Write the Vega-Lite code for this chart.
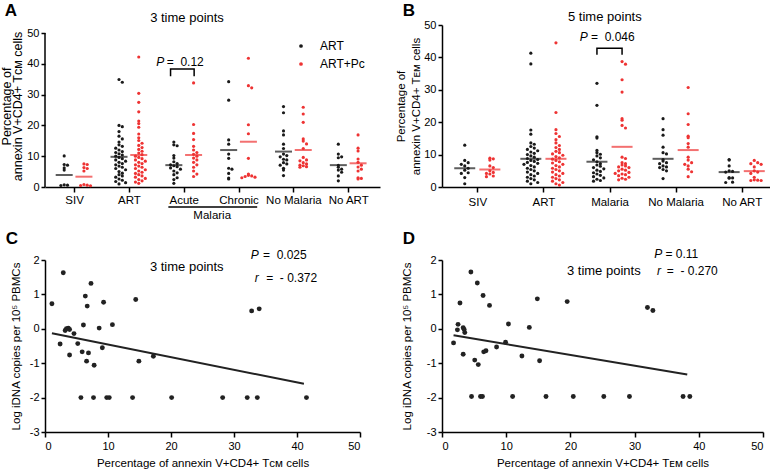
{
  "$schema": "https://vega.github.io/schema/vega-lite/v6.json",
  "background": "#ffffff",
  "padding": {"left": 0, "top": 2, "right": 0, "bottom": 0},
  "config": {
    "font": "Liberation Sans",
    "view": {"stroke": null},
    "axis": {
      "domainColor": "#000000", "domainWidth": 1.5,
      "tickColor": "#000000", "tickWidth": 1.5, "tickSize": 5,
      "labelColor": "#000000", "labelFontSize": 11, "labelFont": "Liberation Sans", "labelOverlap": false,
      "titleColor": "#000000", "titleFontWeight": "normal", "titleFontSize": 12, "titleFont": "Liberation Sans",
      "grid": false
    },
    "text": {"font": "Liberation Sans", "color": "#000000"}
  },
  "datasets": {
    "a": [
      {"c": "SIV", "s": "ART", "v": 10.1}, {"c": "SIV", "s": "ART", "v": 7.3}, {"c": "SIV", "s": "ART", "v": 7.1}, {"c": "SIV", "s": "ART", "v": 6.2}, {"c": "SIV", "s": "ART", "v": 5.5}, {"c": "SIV", "s": "ART", "v": 0.7}, {"c": "SIV", "s": "ART", "v": 0.6}, {"c": "SIV", "s": "ART", "v": 0.5},
      {"c": "SIV", "s": "ART+Pc", "v": 7.5}, {"c": "SIV", "s": "ART+Pc", "v": 7.3}, {"c": "SIV", "s": "ART+Pc", "v": 6.3}, {"c": "SIV", "s": "ART+Pc", "v": 6.0}, {"c": "SIV", "s": "ART+Pc", "v": 5.2}, {"c": "SIV", "s": "ART+Pc", "v": 0.8}, {"c": "SIV", "s": "ART+Pc", "v": 0.6}, {"c": "SIV", "s": "ART+Pc", "v": 0.5}, {"c": "SIV", "s": "ART+Pc", "v": 0.4},
      {"c": "ART", "s": "ART", "v": 34.9}, {"c": "ART", "s": "ART", "v": 34.0}, {"c": "ART", "s": "ART", "v": 20.0}, {"c": "ART", "s": "ART", "v": 19.6}, {"c": "ART", "s": "ART", "v": 18.0}, {"c": "ART", "s": "ART", "v": 16.5}, {"c": "ART", "s": "ART", "v": 15.6}, {"c": "ART", "s": "ART", "v": 14.6}, {"c": "ART", "s": "ART", "v": 13.7}, {"c": "ART", "s": "ART", "v": 13.2}, {"c": "ART", "s": "ART", "v": 12.6}, {"c": "ART", "s": "ART", "v": 12.0}, {"c": "ART", "s": "ART", "v": 11.5}, {"c": "ART", "s": "ART", "v": 11.2}, {"c": "ART", "s": "ART", "v": 10.8}, {"c": "ART", "s": "ART", "v": 10.4}, {"c": "ART", "s": "ART", "v": 10.0}, {"c": "ART", "s": "ART", "v": 9.6}, {"c": "ART", "s": "ART", "v": 9.2}, {"c": "ART", "s": "ART", "v": 8.8}, {"c": "ART", "s": "ART", "v": 8.4}, {"c": "ART", "s": "ART", "v": 8.0}, {"c": "ART", "s": "ART", "v": 7.6}, {"c": "ART", "s": "ART", "v": 7.2}, {"c": "ART", "s": "ART", "v": 6.8}, {"c": "ART", "s": "ART", "v": 6.4}, {"c": "ART", "s": "ART", "v": 6.0}, {"c": "ART", "s": "ART", "v": 5.6}, {"c": "ART", "s": "ART", "v": 5.0}, {"c": "ART", "s": "ART", "v": 4.5}, {"c": "ART", "s": "ART", "v": 4.0}, {"c": "ART", "s": "ART", "v": 3.6}, {"c": "ART", "s": "ART", "v": 3.2}, {"c": "ART", "s": "ART", "v": 2.6}, {"c": "ART", "s": "ART", "v": 2.2}, {"c": "ART", "s": "ART", "v": 1.8}, {"c": "ART", "s": "ART", "v": 1.4}, {"c": "ART", "s": "ART", "v": 1.0},
      {"c": "ART", "s": "ART+Pc", "v": 42.2}, {"c": "ART", "s": "ART+Pc", "v": 30.4}, {"c": "ART", "s": "ART+Pc", "v": 27.5}, {"c": "ART", "s": "ART+Pc", "v": 24.4}, {"c": "ART", "s": "ART+Pc", "v": 21.4}, {"c": "ART", "s": "ART+Pc", "v": 20.6}, {"c": "ART", "s": "ART+Pc", "v": 19.4}, {"c": "ART", "s": "ART+Pc", "v": 17.2}, {"c": "ART", "s": "ART+Pc", "v": 16.0}, {"c": "ART", "s": "ART+Pc", "v": 15.1}, {"c": "ART", "s": "ART+Pc", "v": 14.2}, {"c": "ART", "s": "ART+Pc", "v": 13.5}, {"c": "ART", "s": "ART+Pc", "v": 12.8}, {"c": "ART", "s": "ART+Pc", "v": 12.2}, {"c": "ART", "s": "ART+Pc", "v": 11.6}, {"c": "ART", "s": "ART+Pc", "v": 11.0}, {"c": "ART", "s": "ART+Pc", "v": 10.5}, {"c": "ART", "s": "ART+Pc", "v": 10.0}, {"c": "ART", "s": "ART+Pc", "v": 9.6}, {"c": "ART", "s": "ART+Pc", "v": 9.2}, {"c": "ART", "s": "ART+Pc", "v": 8.8}, {"c": "ART", "s": "ART+Pc", "v": 8.4}, {"c": "ART", "s": "ART+Pc", "v": 8.0}, {"c": "ART", "s": "ART+Pc", "v": 7.6}, {"c": "ART", "s": "ART+Pc", "v": 7.2}, {"c": "ART", "s": "ART+Pc", "v": 6.8}, {"c": "ART", "s": "ART+Pc", "v": 6.4}, {"c": "ART", "s": "ART+Pc", "v": 6.0}, {"c": "ART", "s": "ART+Pc", "v": 5.6}, {"c": "ART", "s": "ART+Pc", "v": 5.2}, {"c": "ART", "s": "ART+Pc", "v": 4.8}, {"c": "ART", "s": "ART+Pc", "v": 4.4}, {"c": "ART", "s": "ART+Pc", "v": 4.0}, {"c": "ART", "s": "ART+Pc", "v": 3.6}, {"c": "ART", "s": "ART+Pc", "v": 3.2}, {"c": "ART", "s": "ART+Pc", "v": 2.8}, {"c": "ART", "s": "ART+Pc", "v": 2.4}, {"c": "ART", "s": "ART+Pc", "v": 2.0}, {"c": "ART", "s": "ART+Pc", "v": 1.6}, {"c": "ART", "s": "ART+Pc", "v": 1.2},
      {"c": "Acute", "s": "ART", "v": 14.6}, {"c": "Acute", "s": "ART", "v": 13.7}, {"c": "Acute", "s": "ART", "v": 13.4}, {"c": "Acute", "s": "ART", "v": 10.2}, {"c": "Acute", "s": "ART", "v": 9.4}, {"c": "Acute", "s": "ART", "v": 8.2}, {"c": "Acute", "s": "ART", "v": 7.6}, {"c": "Acute", "s": "ART", "v": 7.2}, {"c": "Acute", "s": "ART", "v": 6.9}, {"c": "Acute", "s": "ART", "v": 6.6}, {"c": "Acute", "s": "ART", "v": 6.2}, {"c": "Acute", "s": "ART", "v": 5.8}, {"c": "Acute", "s": "ART", "v": 5.2}, {"c": "Acute", "s": "ART", "v": 4.6}, {"c": "Acute", "s": "ART", "v": 4.0}, {"c": "Acute", "s": "ART", "v": 3.0}, {"c": "Acute", "s": "ART", "v": 2.4}, {"c": "Acute", "s": "ART", "v": 1.2},
      {"c": "Acute", "s": "ART+Pc", "v": 33.8}, {"c": "Acute", "s": "ART+Pc", "v": 20.3}, {"c": "Acute", "s": "ART+Pc", "v": 17.4}, {"c": "Acute", "s": "ART+Pc", "v": 15.4}, {"c": "Acute", "s": "ART+Pc", "v": 13.2}, {"c": "Acute", "s": "ART+Pc", "v": 12.0}, {"c": "Acute", "s": "ART+Pc", "v": 11.2}, {"c": "Acute", "s": "ART+Pc", "v": 10.6}, {"c": "Acute", "s": "ART+Pc", "v": 10.0}, {"c": "Acute", "s": "ART+Pc", "v": 9.4}, {"c": "Acute", "s": "ART+Pc", "v": 8.8}, {"c": "Acute", "s": "ART+Pc", "v": 8.0}, {"c": "Acute", "s": "ART+Pc", "v": 7.2}, {"c": "Acute", "s": "ART+Pc", "v": 6.4}, {"c": "Acute", "s": "ART+Pc", "v": 5.2}, {"c": "Acute", "s": "ART+Pc", "v": 4.2}, {"c": "Acute", "s": "ART+Pc", "v": 3.4},
      {"c": "Chronic", "s": "ART", "v": 34.2}, {"c": "Chronic", "s": "ART", "v": 28.2}, {"c": "Chronic", "s": "ART", "v": 15.3}, {"c": "Chronic", "s": "ART", "v": 13.9}, {"c": "Chronic", "s": "ART", "v": 10.7}, {"c": "Chronic", "s": "ART", "v": 9.3}, {"c": "Chronic", "s": "ART", "v": 6.1}, {"c": "Chronic", "s": "ART", "v": 5.8}, {"c": "Chronic", "s": "ART", "v": 4.4}, {"c": "Chronic", "s": "ART", "v": 2.9}, {"c": "Chronic", "s": "ART", "v": 2.6},
      {"c": "Chronic", "s": "ART+Pc", "v": 41.8}, {"c": "Chronic", "s": "ART+Pc", "v": 32.9}, {"c": "Chronic", "s": "ART+Pc", "v": 32.2}, {"c": "Chronic", "s": "ART+Pc", "v": 20.2}, {"c": "Chronic", "s": "ART+Pc", "v": 17.3}, {"c": "Chronic", "s": "ART+Pc", "v": 9.3}, {"c": "Chronic", "s": "ART+Pc", "v": 4.2}, {"c": "Chronic", "s": "ART+Pc", "v": 3.8}, {"c": "Chronic", "s": "ART+Pc", "v": 3.6}, {"c": "Chronic", "s": "ART+Pc", "v": 3.4}, {"c": "Chronic", "s": "ART+Pc", "v": 3.2}, {"c": "Chronic", "s": "ART+Pc", "v": 3.0},
      {"c": "No Malaria", "s": "ART", "v": 26.1}, {"c": "No Malaria", "s": "ART", "v": 24.1}, {"c": "No Malaria", "s": "ART", "v": 18.2}, {"c": "No Malaria", "s": "ART", "v": 16.9}, {"c": "No Malaria", "s": "ART", "v": 13.9}, {"c": "No Malaria", "s": "ART", "v": 12.5}, {"c": "No Malaria", "s": "ART", "v": 10.7}, {"c": "No Malaria", "s": "ART", "v": 10.2}, {"c": "No Malaria", "s": "ART", "v": 9.8}, {"c": "No Malaria", "s": "ART", "v": 9.0}, {"c": "No Malaria", "s": "ART", "v": 8.8}, {"c": "No Malaria", "s": "ART", "v": 7.9}, {"c": "No Malaria", "s": "ART", "v": 7.5}, {"c": "No Malaria", "s": "ART", "v": 7.1}, {"c": "No Malaria", "s": "ART", "v": 6.1}, {"c": "No Malaria", "s": "ART", "v": 5.5}, {"c": "No Malaria", "s": "ART", "v": 3.7},
      {"c": "No Malaria", "s": "ART+Pc", "v": 25.9}, {"c": "No Malaria", "s": "ART+Pc", "v": 23.7}, {"c": "No Malaria", "s": "ART+Pc", "v": 21.0}, {"c": "No Malaria", "s": "ART+Pc", "v": 15.6}, {"c": "No Malaria", "s": "ART+Pc", "v": 14.9}, {"c": "No Malaria", "s": "ART+Pc", "v": 14.0}, {"c": "No Malaria", "s": "ART+Pc", "v": 12.5}, {"c": "No Malaria", "s": "ART+Pc", "v": 9.6}, {"c": "No Malaria", "s": "ART+Pc", "v": 8.8}, {"c": "No Malaria", "s": "ART+Pc", "v": 8.5}, {"c": "No Malaria", "s": "ART+Pc", "v": 7.9}, {"c": "No Malaria", "s": "ART+Pc", "v": 7.5}, {"c": "No Malaria", "s": "ART+Pc", "v": 7.1}, {"c": "No Malaria", "s": "ART+Pc", "v": 6.9}, {"c": "No Malaria", "s": "ART+Pc", "v": 6.6}, {"c": "No Malaria", "s": "ART+Pc", "v": 6.4},
      {"c": "No ART", "s": "ART", "v": 13.9}, {"c": "No ART", "s": "ART", "v": 10.7}, {"c": "No ART", "s": "ART", "v": 9.8}, {"c": "No ART", "s": "ART", "v": 9.5}, {"c": "No ART", "s": "ART", "v": 7.0}, {"c": "No ART", "s": "ART", "v": 6.4}, {"c": "No ART", "s": "ART", "v": 5.8}, {"c": "No ART", "s": "ART", "v": 5.5}, {"c": "No ART", "s": "ART", "v": 4.8}, {"c": "No ART", "s": "ART", "v": 3.6}, {"c": "No ART", "s": "ART", "v": 2.0},
      {"c": "No ART", "s": "ART+Pc", "v": 16.9}, {"c": "No ART", "s": "ART+Pc", "v": 12.6}, {"c": "No ART", "s": "ART+Pc", "v": 11.7}, {"c": "No ART", "s": "ART+Pc", "v": 9.1}, {"c": "No ART", "s": "ART+Pc", "v": 8.0}, {"c": "No ART", "s": "ART+Pc", "v": 7.1}, {"c": "No ART", "s": "ART+Pc", "v": 6.5}, {"c": "No ART", "s": "ART+Pc", "v": 5.8}, {"c": "No ART", "s": "ART+Pc", "v": 5.2}, {"c": "No ART", "s": "ART+Pc", "v": 3.0}, {"c": "No ART", "s": "ART+Pc", "v": 2.8}, {"c": "No ART", "s": "ART+Pc", "v": 2.6}
    ],
    "aMean": [
      {"c": "SIV", "s": "ART", "v": 3.9}, {"c": "SIV", "s": "ART+Pc", "v": 3.35},
      {"c": "ART", "s": "ART", "v": 9.8}, {"c": "ART", "s": "ART+Pc", "v": 10.4},
      {"c": "Acute", "s": "ART", "v": 7.1}, {"c": "Acute", "s": "ART+Pc", "v": 10.4},
      {"c": "Chronic", "s": "ART", "v": 12.0}, {"c": "Chronic", "s": "ART+Pc", "v": 14.7},
      {"c": "No Malaria", "s": "ART", "v": 11.5}, {"c": "No Malaria", "s": "ART+Pc", "v": 12.0},
      {"c": "No ART", "s": "ART", "v": 7.1}, {"c": "No ART", "s": "ART+Pc", "v": 7.7}
    ],
    "aBracket": [
      {"px": 1.76, "v": 36.0, "o": 1}, {"px": 1.76, "v": 38.3, "o": 2}, {"px": 2.19, "v": 38.3, "o": 3}, {"px": 2.19, "v": 36.0, "o": 4}
    ],
    "b": [
      {"c": "SIV", "s": "ART", "v": 12.9}, {"c": "SIV", "s": "ART", "v": 8.2}, {"c": "SIV", "s": "ART", "v": 7.5}, {"c": "SIV", "s": "ART", "v": 7.0}, {"c": "SIV", "s": "ART", "v": 6.5}, {"c": "SIV", "s": "ART", "v": 5.8}, {"c": "SIV", "s": "ART", "v": 5.2}, {"c": "SIV", "s": "ART", "v": 4.4}, {"c": "SIV", "s": "ART", "v": 4.2}, {"c": "SIV", "s": "ART", "v": 2.9}, {"c": "SIV", "s": "ART", "v": 1.0},
      {"c": "SIV", "s": "ART+Pc", "v": 8.9}, {"c": "SIV", "s": "ART+Pc", "v": 8.7}, {"c": "SIV", "s": "ART+Pc", "v": 8.3}, {"c": "SIV", "s": "ART+Pc", "v": 6.5}, {"c": "SIV", "s": "ART+Pc", "v": 6.0}, {"c": "SIV", "s": "ART+Pc", "v": 5.0}, {"c": "SIV", "s": "ART+Pc", "v": 4.5}, {"c": "SIV", "s": "ART+Pc", "v": 4.2}, {"c": "SIV", "s": "ART+Pc", "v": 4.0}, {"c": "SIV", "s": "ART+Pc", "v": 3.4}, {"c": "SIV", "s": "ART+Pc", "v": 3.2},
      {"c": "ART", "s": "ART", "v": 41.3}, {"c": "ART", "s": "ART", "v": 38.0}, {"c": "ART", "s": "ART", "v": 17.6}, {"c": "ART", "s": "ART", "v": 16.3}, {"c": "ART", "s": "ART", "v": 13.6}, {"c": "ART", "s": "ART", "v": 13.2}, {"c": "ART", "s": "ART", "v": 12.5}, {"c": "ART", "s": "ART", "v": 12.0}, {"c": "ART", "s": "ART", "v": 11.6}, {"c": "ART", "s": "ART", "v": 11.2}, {"c": "ART", "s": "ART", "v": 10.8}, {"c": "ART", "s": "ART", "v": 10.4}, {"c": "ART", "s": "ART", "v": 10.0}, {"c": "ART", "s": "ART", "v": 9.6}, {"c": "ART", "s": "ART", "v": 9.2}, {"c": "ART", "s": "ART", "v": 8.8}, {"c": "ART", "s": "ART", "v": 8.5}, {"c": "ART", "s": "ART", "v": 8.2}, {"c": "ART", "s": "ART", "v": 7.9}, {"c": "ART", "s": "ART", "v": 7.6}, {"c": "ART", "s": "ART", "v": 7.3}, {"c": "ART", "s": "ART", "v": 7.0}, {"c": "ART", "s": "ART", "v": 6.6}, {"c": "ART", "s": "ART", "v": 6.2}, {"c": "ART", "s": "ART", "v": 5.8}, {"c": "ART", "s": "ART", "v": 5.4}, {"c": "ART", "s": "ART", "v": 5.0}, {"c": "ART", "s": "ART", "v": 4.6}, {"c": "ART", "s": "ART", "v": 4.2}, {"c": "ART", "s": "ART", "v": 3.8}, {"c": "ART", "s": "ART", "v": 3.4}, {"c": "ART", "s": "ART", "v": 3.0}, {"c": "ART", "s": "ART", "v": 2.6}, {"c": "ART", "s": "ART", "v": 2.2}, {"c": "ART", "s": "ART", "v": 1.8}, {"c": "ART", "s": "ART", "v": 1.4}, {"c": "ART", "s": "ART", "v": 1.0},
      {"c": "ART", "s": "ART+Pc", "v": 44.5}, {"c": "ART", "s": "ART+Pc", "v": 23.0}, {"c": "ART", "s": "ART+Pc", "v": 17.7}, {"c": "ART", "s": "ART+Pc", "v": 16.5}, {"c": "ART", "s": "ART+Pc", "v": 15.6}, {"c": "ART", "s": "ART+Pc", "v": 14.6}, {"c": "ART", "s": "ART+Pc", "v": 13.6}, {"c": "ART", "s": "ART+Pc", "v": 12.8}, {"c": "ART", "s": "ART+Pc", "v": 12.2}, {"c": "ART", "s": "ART+Pc", "v": 11.6}, {"c": "ART", "s": "ART+Pc", "v": 11.0}, {"c": "ART", "s": "ART+Pc", "v": 10.6}, {"c": "ART", "s": "ART+Pc", "v": 10.2}, {"c": "ART", "s": "ART+Pc", "v": 9.8}, {"c": "ART", "s": "ART+Pc", "v": 9.4}, {"c": "ART", "s": "ART+Pc", "v": 9.0}, {"c": "ART", "s": "ART+Pc", "v": 8.6}, {"c": "ART", "s": "ART+Pc", "v": 8.2}, {"c": "ART", "s": "ART+Pc", "v": 7.8}, {"c": "ART", "s": "ART+Pc", "v": 7.4}, {"c": "ART", "s": "ART+Pc", "v": 7.0}, {"c": "ART", "s": "ART+Pc", "v": 6.6}, {"c": "ART", "s": "ART+Pc", "v": 6.2}, {"c": "ART", "s": "ART+Pc", "v": 5.8}, {"c": "ART", "s": "ART+Pc", "v": 5.4}, {"c": "ART", "s": "ART+Pc", "v": 5.0}, {"c": "ART", "s": "ART+Pc", "v": 4.6}, {"c": "ART", "s": "ART+Pc", "v": 4.2}, {"c": "ART", "s": "ART+Pc", "v": 3.8}, {"c": "ART", "s": "ART+Pc", "v": 3.4}, {"c": "ART", "s": "ART+Pc", "v": 3.0}, {"c": "ART", "s": "ART+Pc", "v": 2.6}, {"c": "ART", "s": "ART+Pc", "v": 2.2}, {"c": "ART", "s": "ART+Pc", "v": 1.8}, {"c": "ART", "s": "ART+Pc", "v": 1.4}, {"c": "ART", "s": "ART+Pc", "v": 1.0}, {"c": "ART", "s": "ART+Pc", "v": 0.6},
      {"c": "Malaria", "s": "ART", "v": 32.0}, {"c": "Malaria", "s": "ART", "v": 25.2}, {"c": "Malaria", "s": "ART", "v": 15.5}, {"c": "Malaria", "s": "ART", "v": 15.1}, {"c": "Malaria", "s": "ART", "v": 11.3}, {"c": "Malaria", "s": "ART", "v": 10.6}, {"c": "Malaria", "s": "ART", "v": 10.1}, {"c": "Malaria", "s": "ART", "v": 9.6}, {"c": "Malaria", "s": "ART", "v": 9.0}, {"c": "Malaria", "s": "ART", "v": 8.4}, {"c": "Malaria", "s": "ART", "v": 7.8}, {"c": "Malaria", "s": "ART", "v": 7.2}, {"c": "Malaria", "s": "ART", "v": 6.8}, {"c": "Malaria", "s": "ART", "v": 6.4}, {"c": "Malaria", "s": "ART", "v": 6.0}, {"c": "Malaria", "s": "ART", "v": 5.6}, {"c": "Malaria", "s": "ART", "v": 5.2}, {"c": "Malaria", "s": "ART", "v": 4.8}, {"c": "Malaria", "s": "ART", "v": 4.4}, {"c": "Malaria", "s": "ART", "v": 4.0}, {"c": "Malaria", "s": "ART", "v": 3.6}, {"c": "Malaria", "s": "ART", "v": 3.2}, {"c": "Malaria", "s": "ART", "v": 2.8}, {"c": "Malaria", "s": "ART", "v": 2.4}, {"c": "Malaria", "s": "ART", "v": 2.0}, {"c": "Malaria", "s": "ART", "v": 1.8},
      {"c": "Malaria", "s": "ART+Pc", "v": 38.7}, {"c": "Malaria", "s": "ART+Pc", "v": 37.9}, {"c": "Malaria", "s": "ART+Pc", "v": 33.1}, {"c": "Malaria", "s": "ART+Pc", "v": 29.3}, {"c": "Malaria", "s": "ART+Pc", "v": 21.1}, {"c": "Malaria", "s": "ART+Pc", "v": 20.6}, {"c": "Malaria", "s": "ART+Pc", "v": 19.0}, {"c": "Malaria", "s": "ART+Pc", "v": 18.2}, {"c": "Malaria", "s": "ART+Pc", "v": 9.2}, {"c": "Malaria", "s": "ART+Pc", "v": 8.8}, {"c": "Malaria", "s": "ART+Pc", "v": 7.5}, {"c": "Malaria", "s": "ART+Pc", "v": 7.2}, {"c": "Malaria", "s": "ART+Pc", "v": 6.8}, {"c": "Malaria", "s": "ART+Pc", "v": 6.5}, {"c": "Malaria", "s": "ART+Pc", "v": 6.2}, {"c": "Malaria", "s": "ART+Pc", "v": 6.0}, {"c": "Malaria", "s": "ART+Pc", "v": 5.5}, {"c": "Malaria", "s": "ART+Pc", "v": 5.2}, {"c": "Malaria", "s": "ART+Pc", "v": 5.0}, {"c": "Malaria", "s": "ART+Pc", "v": 4.5}, {"c": "Malaria", "s": "ART+Pc", "v": 4.2}, {"c": "Malaria", "s": "ART+Pc", "v": 4.0}, {"c": "Malaria", "s": "ART+Pc", "v": 3.8}, {"c": "Malaria", "s": "ART+Pc", "v": 3.5}, {"c": "Malaria", "s": "ART+Pc", "v": 3.0}, {"c": "Malaria", "s": "ART+Pc", "v": 2.7}, {"c": "Malaria", "s": "ART+Pc", "v": 2.4}, {"c": "Malaria", "s": "ART+Pc", "v": 2.2},
      {"c": "No Malaria", "s": "ART", "v": 21.1}, {"c": "No Malaria", "s": "ART", "v": 17.7}, {"c": "No Malaria", "s": "ART", "v": 16.0}, {"c": "No Malaria", "s": "ART", "v": 12.3}, {"c": "No Malaria", "s": "ART", "v": 10.6}, {"c": "No Malaria", "s": "ART", "v": 10.2}, {"c": "No Malaria", "s": "ART", "v": 8.5}, {"c": "No Malaria", "s": "ART", "v": 8.0}, {"c": "No Malaria", "s": "ART", "v": 7.5}, {"c": "No Malaria", "s": "ART", "v": 7.2}, {"c": "No Malaria", "s": "ART", "v": 6.5}, {"c": "No Malaria", "s": "ART", "v": 6.2}, {"c": "No Malaria", "s": "ART", "v": 6.0}, {"c": "No Malaria", "s": "ART", "v": 5.4}, {"c": "No Malaria", "s": "ART", "v": 5.0}, {"c": "No Malaria", "s": "ART", "v": 2.6},
      {"c": "No Malaria", "s": "ART+Pc", "v": 30.7}, {"c": "No Malaria", "s": "ART+Pc", "v": 22.6}, {"c": "No Malaria", "s": "ART+Pc", "v": 19.3}, {"c": "No Malaria", "s": "ART+Pc", "v": 15.7}, {"c": "No Malaria", "s": "ART+Pc", "v": 15.2}, {"c": "No Malaria", "s": "ART+Pc", "v": 13.4}, {"c": "No Malaria", "s": "ART+Pc", "v": 12.3}, {"c": "No Malaria", "s": "ART+Pc", "v": 9.2}, {"c": "No Malaria", "s": "ART+Pc", "v": 8.3}, {"c": "No Malaria", "s": "ART+Pc", "v": 7.5}, {"c": "No Malaria", "s": "ART+Pc", "v": 7.0}, {"c": "No Malaria", "s": "ART+Pc", "v": 6.5}, {"c": "No Malaria", "s": "ART+Pc", "v": 5.5}, {"c": "No Malaria", "s": "ART+Pc", "v": 4.7}, {"c": "No Malaria", "s": "ART+Pc", "v": 3.2},
      {"c": "No ART", "s": "ART", "v": 8.5}, {"c": "No ART", "s": "ART", "v": 8.3}, {"c": "No ART", "s": "ART", "v": 6.5}, {"c": "No ART", "s": "ART", "v": 5.0}, {"c": "No ART", "s": "ART", "v": 4.8}, {"c": "No ART", "s": "ART", "v": 4.6}, {"c": "No ART", "s": "ART", "v": 2.9}, {"c": "No ART", "s": "ART", "v": 2.8}, {"c": "No ART", "s": "ART", "v": 2.7}, {"c": "No ART", "s": "ART", "v": 1.5}, {"c": "No ART", "s": "ART", "v": 1.4},
      {"c": "No ART", "s": "ART+Pc", "v": 8.2}, {"c": "No ART", "s": "ART+Pc", "v": 7.5}, {"c": "No ART", "s": "ART+Pc", "v": 7.2}, {"c": "No ART", "s": "ART+Pc", "v": 7.0}, {"c": "No ART", "s": "ART+Pc", "v": 6.2}, {"c": "No ART", "s": "ART+Pc", "v": 5.0}, {"c": "No ART", "s": "ART+Pc", "v": 4.6}, {"c": "No ART", "s": "ART+Pc", "v": 4.2}, {"c": "No ART", "s": "ART+Pc", "v": 3.0}, {"c": "No ART", "s": "ART+Pc", "v": 2.2}, {"c": "No ART", "s": "ART+Pc", "v": 2.1}, {"c": "No ART", "s": "ART+Pc", "v": 2.0}, {"c": "No ART", "s": "ART+Pc", "v": 2.0}
    ],
    "bMean": [
      {"c": "SIV", "s": "ART", "v": 5.8}, {"c": "SIV", "s": "ART+Pc", "v": 5.4},
      {"c": "ART", "s": "ART", "v": 8.7}, {"c": "ART", "s": "ART+Pc", "v": 8.7},
      {"c": "Malaria", "s": "ART", "v": 7.8}, {"c": "Malaria", "s": "ART+Pc", "v": 12.4},
      {"c": "No Malaria", "s": "ART", "v": 8.7}, {"c": "No Malaria", "s": "ART+Pc", "v": 11.4},
      {"c": "No ART", "s": "ART", "v": 4.6}, {"c": "No ART", "s": "ART+Pc", "v": 4.9}
    ],
    "bBracket": [
      {"px": 1.81, "v": 40.8, "o": 1}, {"px": 1.81, "v": 42.8, "o": 2}, {"px": 2.19, "v": 42.8, "o": 3}, {"px": 2.19, "v": 40.8, "o": 4}
    ],
    "c": [
      {"x": 1.1, "y": 0.73}, {"x": 2.9, "y": 1.63}, {"x": 2.4, "y": -0.44}, {"x": 3.2, "y": -0.05}, {"x": 3.4, "y": 0.0}, {"x": 3.7, "y": 0.02}, {"x": 3.9, "y": -0.02}, {"x": 3.9, "y": -0.76}, {"x": 4.6, "y": -0.14}, {"x": 5.2, "y": -0.43}, {"x": 5.7, "y": -2.0}, {"x": 5.9, "y": -0.67}, {"x": 6.1, "y": 0.11}, {"x": 6.4, "y": 0.95}, {"x": 6.6, "y": -0.94}, {"x": 6.7, "y": 0.66}, {"x": 6.9, "y": -0.7}, {"x": 7.3, "y": 1.32}, {"x": 7.7, "y": -2.0}, {"x": 7.8, "y": -1.06}, {"x": 8.6, "y": 0.02}, {"x": 9.1, "y": -0.55}, {"x": 9.3, "y": 0.77}, {"x": 9.8, "y": -2.0}, {"x": 10.2, "y": -2.0}, {"x": 10.7, "y": 0.12}, {"x": 13.9, "y": -2.0}, {"x": 14.4, "y": 0.85}, {"x": 14.9, "y": -0.94}, {"x": 17.2, "y": -0.8}, {"x": 20.1, "y": -2.0}, {"x": 28.2, "y": -2.0}, {"x": 32.1, "y": -2.0}, {"x": 32.8, "y": 0.52}, {"x": 33.7, "y": -2.0}, {"x": 34.0, "y": 0.58}, {"x": 41.5, "y": -2.0}
    ],
    "cLine": [{"x": 1.1, "y": -0.13}, {"x": 41.1, "y": -1.6}],
    "d": [
      {"x": 1.8, "y": -0.41}, {"x": 2.5, "y": 0.13}, {"x": 2.4, "y": -0.03}, {"x": 2.8, "y": 0.75}, {"x": 3.3, "y": 0.03}, {"x": 3.45, "y": -0.02}, {"x": 3.55, "y": -0.11}, {"x": 3.3, "y": -0.74}, {"x": 4.5, "y": 1.65}, {"x": 4.6, "y": -1.97}, {"x": 5.1, "y": -0.91}, {"x": 5.5, "y": 1.33}, {"x": 5.65, "y": -1.04}, {"x": 6.0, "y": -1.97}, {"x": 6.3, "y": -1.97}, {"x": 6.4, "y": 0.97}, {"x": 6.5, "y": -0.67}, {"x": 6.85, "y": -0.64}, {"x": 7.4, "y": 0.68}, {"x": 8.5, "y": -0.53}, {"x": 9.9, "y": -0.39}, {"x": 10.35, "y": 0.14}, {"x": 11.0, "y": -1.97}, {"x": 12.45, "y": -0.79}, {"x": 13.6, "y": 0.04}, {"x": 14.85, "y": 0.87}, {"x": 15.2, "y": -0.93}, {"x": 16.2, "y": -1.97}, {"x": 19.5, "y": 0.79}, {"x": 20.45, "y": -1.97}, {"x": 25.2, "y": -1.97}, {"x": 29.2, "y": -1.97}, {"x": 32.0, "y": 0.62}, {"x": 32.85, "y": 0.53}, {"x": 37.55, "y": -1.97}, {"x": 38.6, "y": -1.97}
    ],
    "dLine": [{"x": 1.8, "y": -0.19}, {"x": 38.2, "y": -1.33}]
  },
  "columns": 2,
  "spacing": {"row": 73, "column": 62},
  "bounds": "flush",
  "resolve": {"scale": {"color": "independent"}, "legend": {"color": "independent"}},
  "concat": [
    {
      "width": 335,
      "height": 162,
      "layer": [
        {
          "data": {"name": "a"},
          "transform": [
            {"calculate": "floor(datum.v / 1.4)", "as": "b"},
            {"window": [{"op": "row_number", "as": "k"}], "groupby": ["c", "s", "b"]},
            {"calculate": "indexof(['SIV','ART','Acute','Chronic','No Malaria','No ART'], datum.c) + (datum.s == 'ART' ? -0.18 : 0.18) + (datum.k % 2 == 0 ? 1 : -1) * floor(datum.k / 2) * 0.06", "as": "px"}
          ],
          "mark": {"type": "circle", "size": 10, "opacity": 1},
          "encoding": {
            "x": {"field": "px", "type": "quantitative", "scale": {"domain": [-0.53, 5.58], "nice": false, "zero": false},
              "axis": {"title": null, "values": [0, 1, 2, 3, 4, 5], "tickCount": 6, "labelFontSize": 11.5, "labelPadding": 2,
                "labelExpr": "['SIV','ART','Acute','Chronic','No Malaria','No ART'][datum.value]"}},
            "y": {"field": "v", "type": "quantitative", "scale": {"domain": [0, 52.6], "nice": false},
              "axis": {"values": [0, 10, 20, 30, 40, 50], "tickCount": 6, "domain": false, "tickSize": 4, "labelPadding": 2, "titlePadding": 2, "titleFontSize": 12.5, "titleLineHeight": 11,
                "title": ["Percentage of", "annexin V+CD4+ Tᴄᴍ cells"]}},
            "color": {"field": "s", "type": "nominal", "scale": {"domain": ["ART", "ART+Pc"], "range": ["#1a1a1a", "#ee3333"]},
              "legend": {"title": null, "orient": "top-right", "offset": 15, "padding": 0, "symbolType": "circle", "symbolSize": 14,
                "labelFontSize": 12, "labelColor": "#000000", "labelOffset": 13, "rowPadding": 6}}
          }
        },
        {
          "data": {"name": "aMean"},
          "transform": [
            {"calculate": "indexof(['SIV','ART','Acute','Chronic','No Malaria','No ART'], datum.c) + (datum.s == 'ART' ? -0.18 : 0.18)", "as": "px"}
          ],
          "mark": {"type": "tick", "orient": "horizontal", "size": 17, "thickness": 2},
          "encoding": {
            "x": {"field": "px", "type": "quantitative"},
            "y": {"field": "v", "type": "quantitative"},
            "color": {"condition": {"test": "datum.s == 'ART'", "value": "#1a1a1a"}, "value": "#ee3333"}
          }
        },
        {
          "data": {"values": [{}]},
          "mark": {"type": "rule", "color": "#000000", "strokeWidth": 1.5},
          "encoding": {"x": {"datum": -0.53}, "y": {"datum": 0}, "y2": {"datum": 50}}
        },
        {
          "data": {"name": "aBracket"},
          "mark": {"type": "line", "color": "#000000", "strokeWidth": 1.5},
          "encoding": {"x": {"field": "px", "type": "quantitative"}, "y": {"field": "v", "type": "quantitative"}, "order": {"field": "o"}}
        },
        {
          "data": {"values": [{}]},
          "mark": {"type": "rule", "color": "#000000", "strokeWidth": 1.5},
          "encoding": {"x": {"datum": 1.72}, "x2": {"datum": 3.34}, "y": {"datum": -6.5}}
        },
        {
          "data": {"values": [{}]},
          "mark": {"type": "text", "text": "Malaria", "fontSize": 11.5},
          "encoding": {"x": {"datum": 2.52}, "y": {"datum": -9.3}}
        },
        {
          "data": {"values": [{}]},
          "mark": {"type": "text", "text": "A", "fontSize": 17, "fontWeight": "bold"},
          "encoding": {"x": {"datum": -1.15}, "y": {"datum": 57.1}}
        },
        {
          "data": {"values": [{}]},
          "mark": {"type": "text", "text": "3 time points", "fontSize": 13},
          "encoding": {"x": {"datum": 2.06}, "y": {"datum": 54.9}}
        },
        {
          "data": {"values": [{}]},
          "mark": {"type": "text", "text": "P", "fontSize": 12, "fontStyle": "italic"},
          "encoding": {"x": {"datum": 1.57}, "y": {"datum": 40.6}}
        },
        {
          "data": {"values": [{}]},
          "mark": {"type": "text", "text": "=\u00a0 0.12", "fontSize": 12, "align": "left"},
          "encoding": {"x": {"datum": 1.69}, "y": {"datum": 40.6}}
        }
      ]
    },
    {
      "width": 328,
      "height": 162,
      "layer": [
        {
          "data": {"name": "b"},
          "transform": [
            {"calculate": "floor(datum.v / 1.4)", "as": "b"},
            {"window": [{"op": "row_number", "as": "k"}], "groupby": ["c", "s", "b"]},
            {"calculate": "indexof(['SIV','ART','Malaria','No Malaria','No ART'], datum.c) + (datum.s == 'ART' ? -0.19 : 0.19) + (datum.k % 2 == 0 ? 1 : -1) * floor(datum.k / 2) * 0.052", "as": "px"}
          ],
          "mark": {"type": "circle", "size": 10, "opacity": 1},
          "encoding": {
            "x": {"field": "px", "type": "quantitative", "scale": {"domain": [-0.534, 4.428], "nice": false, "zero": false},
              "axis": {"title": null, "values": [0, 1, 2, 3, 4], "tickCount": 5, "labelFontSize": 11.5, "labelPadding": 4,
                "labelExpr": "['SIV','ART','Malaria','No Malaria','No ART'][datum.value]"}},
            "y": {"field": "v", "type": "quantitative", "scale": {"domain": [0, 50], "nice": false},
              "axis": {"values": [0, 10, 20, 30, 40, 50], "tickCount": 6, "tickSize": 4, "labelPadding": 2, "titlePadding": 2, "titleFontSize": 11.5, "titleLineHeight": 15,
                "title": ["Percentage of", "annexin V+CD4+ Tᴇᴍ cells"]}},
            "color": {"condition": {"test": "datum.s == 'ART'", "value": "#1a1a1a"}, "value": "#ee3333"}
          }
        },
        {
          "data": {"name": "bMean"},
          "transform": [
            {"calculate": "indexof(['SIV','ART','Malaria','No Malaria','No ART'], datum.c) + (datum.s == 'ART' ? -0.19 : 0.19)", "as": "px"}
          ],
          "mark": {"type": "tick", "orient": "horizontal", "size": 21, "thickness": 2},
          "encoding": {
            "x": {"field": "px", "type": "quantitative"},
            "y": {"field": "v", "type": "quantitative"},
            "color": {"condition": {"test": "datum.s == 'ART'", "value": "#1a1a1a"}, "value": "#ee3333"}
          }
        },
        {
          "data": {"name": "bBracket"},
          "mark": {"type": "line", "color": "#000000", "strokeWidth": 1.5},
          "encoding": {"x": {"field": "px", "type": "quantitative"}, "y": {"field": "v", "type": "quantitative"}, "order": {"field": "o"}}
        },
        {
          "data": {"values": [{}]},
          "mark": {"type": "text", "text": "B", "fontSize": 17, "fontWeight": "bold"},
          "encoding": {"x": {"datum": -1.033}, "y": {"datum": 54.3}}
        },
        {
          "data": {"values": [{}]},
          "mark": {"type": "text", "text": "5 time points", "fontSize": 13},
          "encoding": {"x": {"datum": 1.93}, "y": {"datum": 52.5}}
        },
        {
          "data": {"values": [{}]},
          "mark": {"type": "text", "text": "P", "fontSize": 12, "fontStyle": "italic"},
          "encoding": {"x": {"datum": 1.61}, "y": {"datum": 46.3}}
        },
        {
          "data": {"values": [{}]},
          "mark": {"type": "text", "text": "=\u00a0 0.046", "fontSize": 12, "align": "left"},
          "encoding": {"x": {"datum": 1.72}, "y": {"datum": 46.3}}
        }
      ]
    },
    {
      "width": 315,
      "height": 172,
      "layer": [
        {
          "data": {"name": "c"},
          "mark": {"type": "circle", "size": 24, "color": "#222222", "opacity": 1},
          "encoding": {
            "x": {"field": "x", "type": "quantitative", "scale": {"domain": [0, 50], "nice": false},
              "axis": {"values": [0, 10, 20, 30, 40, 50], "tickCount": 6, "labelPadding": 3, "titlePadding": 6, "titleFontSize": 11.5,
                "title": "Percentage of annexin V+CD4+ Tᴄᴍ cells"}},
            "y": {"field": "y", "type": "quantitative", "scale": {"domain": [-3, 2], "nice": false},
              "axis": {"values": [-3, -2, -1, 0, 1, 2], "tickCount": 6, "labelExpr": "'' + datum.value", "tickSize": 4, "labelPadding": 2, "titlePadding": 8, "titleFontSize": 11.5,
                "title": "Log iDNA copies per 10⁵ PBMCs"}}
          }
        },
        {
          "data": {"name": "cLine"},
          "mark": {"type": "line", "color": "#222222", "strokeWidth": 2},
          "encoding": {"x": {"field": "x", "type": "quantitative"}, "y": {"field": "y", "type": "quantitative"}}
        },
        {
          "data": {"values": [{}]},
          "mark": {"type": "text", "text": "C", "fontSize": 17, "fontWeight": "bold"},
          "encoding": {"x": {"datum": -5.24}, "y": {"datum": 2.61}}
        },
        {
          "data": {"values": [{}]},
          "mark": {"type": "text", "text": "3 time points", "fontSize": 13},
          "encoding": {"x": {"datum": 22.5}, "y": {"datum": 1.8}}
        },
        {
          "data": {"values": [{}]},
          "mark": {"type": "text", "text": "P", "fontSize": 12, "fontStyle": "italic"},
          "encoding": {"x": {"datum": 33.3}, "y": {"datum": 2.14}}
        },
        {
          "data": {"values": [{}]},
          "mark": {"type": "text", "text": "=\u00a0 0.025", "fontSize": 12, "align": "left"},
          "encoding": {"x": {"datum": 34.6}, "y": {"datum": 2.14}}
        },
        {
          "data": {"values": [{}]},
          "mark": {"type": "text", "text": "r", "fontSize": 12, "fontStyle": "italic"},
          "encoding": {"x": {"datum": 33.6}, "y": {"datum": 1.49}}
        },
        {
          "data": {"values": [{}]},
          "mark": {"type": "text", "text": "=\u00a0 - 0.372", "fontSize": 12, "align": "left"},
          "encoding": {"x": {"datum": 35.1}, "y": {"datum": 1.49}}
        }
      ]
    },
    {
      "width": 321,
      "height": 172,
      "layer": [
        {
          "data": {"name": "d"},
          "mark": {"type": "circle", "size": 24, "color": "#222222", "opacity": 1},
          "encoding": {
            "x": {"field": "x", "type": "quantitative", "scale": {"domain": [0, 50], "nice": false},
              "axis": {"values": [0, 10, 20, 30, 40, 50], "tickCount": 6, "labelPadding": 3, "titlePadding": 6, "titleFontSize": 11.5,
                "title": "Percentage of annexin V+CD4+ Tᴇᴍ cells"}},
            "y": {"field": "y", "type": "quantitative", "scale": {"domain": [-3, 2], "nice": false},
              "axis": {"values": [-3, -2, -1, 0, 1, 2], "tickCount": 6, "labelExpr": "'' + datum.value", "tickSize": 4, "labelPadding": 2, "titlePadding": 14, "titleFontSize": 11.5,
                "title": "Log iDNA copies per 10⁵ PBMCs"}}
          }
        },
        {
          "data": {"name": "dLine"},
          "mark": {"type": "line", "color": "#222222", "strokeWidth": 2},
          "encoding": {"x": {"field": "x", "type": "quantitative"}, "y": {"field": "y", "type": "quantitative"}}
        },
        {
          "data": {"values": [{}]},
          "mark": {"type": "text", "text": "D", "fontSize": 17, "fontWeight": "bold"},
          "encoding": {"x": {"datum": -5.14}, "y": {"datum": 2.6}}
        },
        {
          "data": {"values": [{}]},
          "mark": {"type": "text", "text": "3 time points", "fontSize": 13},
          "encoding": {"x": {"datum": 25.2}, "y": {"datum": 1.69}}
        },
        {
          "data": {"values": [{}]},
          "mark": {"type": "text", "text": "P", "fontSize": 12, "fontStyle": "italic"},
          "encoding": {"x": {"datum": 33.7}, "y": {"datum": 2.17}}
        },
        {
          "data": {"values": [{}]},
          "mark": {"type": "text", "text": "= 0.11", "fontSize": 12, "align": "left"},
          "encoding": {"x": {"datum": 34.8}, "y": {"datum": 2.17}}
        },
        {
          "data": {"values": [{}]},
          "mark": {"type": "text", "text": "r", "fontSize": 12, "fontStyle": "italic"},
          "encoding": {"x": {"datum": 33.8}, "y": {"datum": 1.69}}
        },
        {
          "data": {"values": [{}]},
          "mark": {"type": "text", "text": "=\u00a0 - 0.270", "fontSize": 12, "align": "left"},
          "encoding": {"x": {"datum": 35.0}, "y": {"datum": 1.69}}
        }
      ]
    }
  ]
}
